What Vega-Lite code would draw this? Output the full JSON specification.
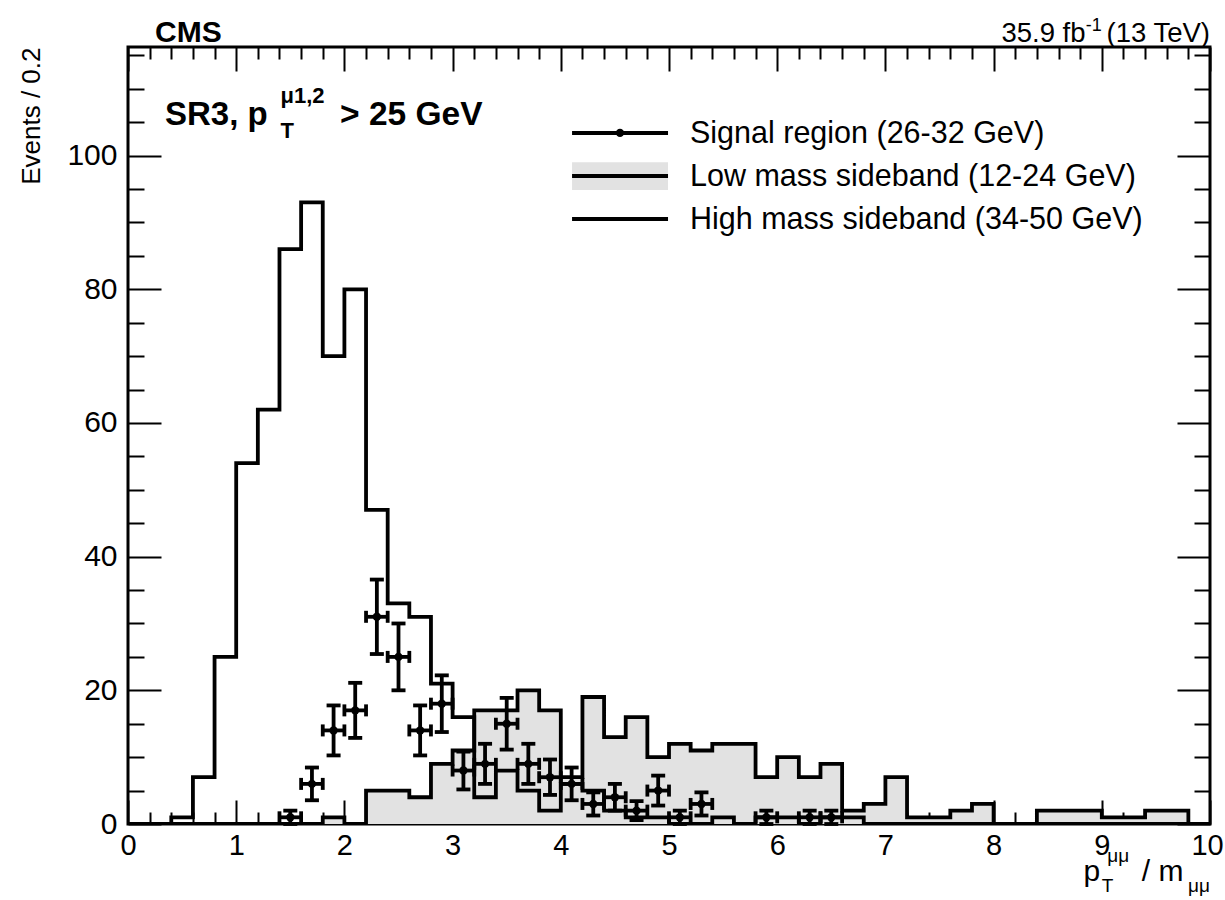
{
  "$schema": "https://vega.github.io/schema/vega-lite/v6.json",
  "width": 1082,
  "height": 777,
  "autosize": {"type": "none"},
  "padding": {"left": 128, "top": 47, "right": 15, "bottom": 76},
  "background": "white",
  "config": {
    "view": {"stroke": "black", "strokeWidth": 3},
    "font": "Liberation Sans",
    "text": {"font": "Liberation Sans", "color": "black"}
  },
  "data": {"values": [{}]},
  "datasets": {
    "hist": [
      {"e": 0, "high": 0, "low": 0}, {"e": 0.2, "high": 0, "low": 0}, {"e": 0.4, "high": 1, "low": 0},
      {"e": 0.6, "high": 7, "low": 0}, {"e": 0.8, "high": 25, "low": 0}, {"e": 1.0, "high": 54, "low": 0},
      {"e": 1.2, "high": 62, "low": 0}, {"e": 1.4, "high": 86, "low": 0}, {"e": 1.6, "high": 93, "low": 0},
      {"e": 1.8, "high": 70, "low": 1}, {"e": 2.0, "high": 80, "low": 0}, {"e": 2.2, "high": 47, "low": 5},
      {"e": 2.4, "high": 33, "low": 5}, {"e": 2.6, "high": 31, "low": 4}, {"e": 2.8, "high": 21, "low": 9},
      {"e": 3.0, "high": 16, "low": 11}, {"e": 3.2, "high": 4, "low": 17}, {"e": 3.4, "high": 8, "low": 17},
      {"e": 3.6, "high": 5, "low": 20}, {"e": 3.8, "high": 2, "low": 17}, {"e": 4.0, "high": 6, "low": 7},
      {"e": 4.2, "high": 5, "low": 19}, {"e": 4.4, "high": 2, "low": 13}, {"e": 4.6, "high": 1, "low": 16},
      {"e": 4.8, "high": 1, "low": 10}, {"e": 5.0, "high": 0, "low": 12}, {"e": 5.2, "high": 0, "low": 11},
      {"e": 5.4, "high": 1, "low": 12}, {"e": 5.6, "high": 0, "low": 12}, {"e": 5.8, "high": 1, "low": 7},
      {"e": 6.0, "high": 1, "low": 10}, {"e": 6.2, "high": 0, "low": 7}, {"e": 6.4, "high": 1, "low": 9},
      {"e": 6.6, "high": 1, "low": 2}, {"e": 6.8, "high": 0, "low": 3}, {"e": 7.0, "high": 0, "low": 7},
      {"e": 7.2, "high": 0, "low": 1}, {"e": 7.4, "high": 0, "low": 1}, {"e": 7.6, "high": 0, "low": 2},
      {"e": 7.8, "high": 0, "low": 3}, {"e": 8.0, "high": 0, "low": 0}, {"e": 8.2, "high": 0, "low": 0},
      {"e": 8.4, "high": 0, "low": 2}, {"e": 8.6, "high": 0, "low": 2}, {"e": 8.8, "high": 0, "low": 2},
      {"e": 9.0, "high": 0, "low": 1}, {"e": 9.2, "high": 0, "low": 1}, {"e": 9.4, "high": 0, "low": 2},
      {"e": 9.6, "high": 0, "low": 2}, {"e": 9.8, "high": 0, "low": 0}, {"e": 10, "high": 0, "low": 0}
    ],
    "sig": [
      {"c": 1.5, "lo": 1.4, "hi": 1.6, "n": 1, "elo": 0, "ehi": 2},
      {"c": 1.7, "lo": 1.6, "hi": 1.8, "n": 6, "elo": 3.55, "ehi": 8.45},
      {"c": 1.9, "lo": 1.8, "hi": 2.0, "n": 14, "elo": 10.26, "ehi": 17.74},
      {"c": 2.1, "lo": 2.0, "hi": 2.2, "n": 17, "elo": 12.88, "ehi": 21.12},
      {"c": 2.3, "lo": 2.2, "hi": 2.4, "n": 31, "elo": 25.43, "ehi": 36.57},
      {"c": 2.5, "lo": 2.4, "hi": 2.6, "n": 25, "elo": 20, "ehi": 30},
      {"c": 2.7, "lo": 2.6, "hi": 2.8, "n": 14, "elo": 10.26, "ehi": 17.74},
      {"c": 2.9, "lo": 2.8, "hi": 3.0, "n": 18, "elo": 13.76, "ehi": 22.24},
      {"c": 3.1, "lo": 3.0, "hi": 3.2, "n": 8, "elo": 5.17, "ehi": 10.83},
      {"c": 3.3, "lo": 3.2, "hi": 3.4, "n": 9, "elo": 6, "ehi": 12},
      {"c": 3.5, "lo": 3.4, "hi": 3.6, "n": 15, "elo": 11.13, "ehi": 18.87},
      {"c": 3.7, "lo": 3.6, "hi": 3.8, "n": 9, "elo": 6, "ehi": 12},
      {"c": 3.9, "lo": 3.8, "hi": 4.0, "n": 7, "elo": 4.35, "ehi": 9.65},
      {"c": 4.1, "lo": 4.0, "hi": 4.2, "n": 6, "elo": 3.55, "ehi": 8.45},
      {"c": 4.3, "lo": 4.2, "hi": 4.4, "n": 3, "elo": 1.27, "ehi": 4.73},
      {"c": 4.5, "lo": 4.4, "hi": 4.6, "n": 4, "elo": 2, "ehi": 6},
      {"c": 4.7, "lo": 4.6, "hi": 4.8, "n": 2, "elo": 0.59, "ehi": 3.41},
      {"c": 4.9, "lo": 4.8, "hi": 5.0, "n": 5, "elo": 2.76, "ehi": 7.24},
      {"c": 5.1, "lo": 5.0, "hi": 5.2, "n": 1, "elo": 0, "ehi": 2},
      {"c": 5.3, "lo": 5.2, "hi": 5.4, "n": 3, "elo": 1.27, "ehi": 4.73},
      {"c": 5.9, "lo": 5.8, "hi": 6.0, "n": 1, "elo": 0, "ehi": 2},
      {"c": 6.3, "lo": 6.2, "hi": 6.4, "n": 1, "elo": 0, "ehi": 2},
      {"c": 6.5, "lo": 6.4, "hi": 6.6, "n": 1, "elo": 0, "ehi": 2}
    ]
  },
  "resolve": {"axis": {"x": "independent", "y": "independent"}},
  "layer": [
    {
      "data": {"name": "hist"},
      "mark": {"type": "area", "interpolate": "step-after", "color": "#e2e2e2", "clip": true},
      "encoding": {
        "x": {"field": "e", "type": "quantitative",
          "scale": {"domain": [0, 10], "nice": false, "zero": false},
          "axis": {"orient": "bottom", "title": null, "grid": false, "domain": false,
            "values": [0,0.2,0.4,0.6,0.8,1,1.2,1.4,1.6,1.8,2,2.2,2.4,2.6,2.8,3,3.2,3.4,3.6,3.8,4,4.2,4.4,4.6,4.8,5,5.2,5.4,5.6,5.8,6,6.2,6.4,6.6,6.8,7,7.2,7.4,7.6,7.8,8,8.2,8.4,8.6,8.8,9,9.2,9.4,9.6,9.8,10],
            "tickSize": {"condition": {"test": "abs(datum.value - round(datum.value)) < 0.001", "value": -24}, "value": -12},
            "tickWidth": 2, "tickColor": "black",
            "labelExpr": "abs(datum.value - round(datum.value)) < 0.001 ? format(datum.value, 'd') : ''",
            "labelOffset": {"condition": {"test": "datum.value > 9.9", "value": -3}, "value": 0},
            "labelOverlap": false, "labelFlush": false, "labelFont": "Liberation Sans", "labelFontSize": 29,
            "labelColor": "black", "labelPadding": 31}},
        "y": {"field": "low", "type": "quantitative",
          "scale": {"domain": [0, 116.25], "nice": false, "zero": false},
          "axis": {"orient": "left", "grid": false, "domain": false,
            "values": [0,5,10,15,20,25,30,35,40,45,50,55,60,65,70,75,80,85,90,95,100,105,110,115],
            "tickSize": {"condition": {"test": "datum.value % 20 === 0", "value": -33}, "value": -16},
            "tickWidth": 2, "tickColor": "black",
            "labelExpr": "datum.value % 20 === 0 ? format(datum.value, 'd') : ''",
            "labelOverlap": false, "labelFlush": false, "labelFont": "Liberation Sans", "labelFontSize": 30,
            "labelColor": "black", "labelPadding": 44,
            "title": "Events / 0.2", "titleAnchor": "end", "titleFont": "Liberation Sans", "titleFontSize": 26,
            "titleFontWeight": "normal", "titleColor": "black", "titlePadding": 22}}
      }
    },
    {
      "data": {"name": "hist"},
      "mark": {"type": "line", "interpolate": "step-after", "color": "black", "strokeWidth": 3.8, "clip": true},
      "encoding": {
        "x": {"field": "e", "type": "quantitative",
          "axis": {"orient": "top", "title": null, "grid": false, "domain": false, "labels": false,
            "values": [0,0.2,0.4,0.6,0.8,1,1.2,1.4,1.6,1.8,2,2.2,2.4,2.6,2.8,3,3.2,3.4,3.6,3.8,4,4.2,4.4,4.6,4.8,5,5.2,5.4,5.6,5.8,6,6.2,6.4,6.6,6.8,7,7.2,7.4,7.6,7.8,8,8.2,8.4,8.6,8.8,9,9.2,9.4,9.6,9.8,10],
            "tickSize": {"condition": {"test": "abs(datum.value - round(datum.value)) < 0.001", "value": -24}, "value": -12},
            "tickWidth": 2, "tickColor": "black"}},
        "y": {"field": "low", "type": "quantitative",
          "axis": {"orient": "right", "title": null, "grid": false, "domain": false, "labels": false,
            "values": [0,5,10,15,20,25,30,35,40,45,50,55,60,65,70,75,80,85,90,95,100,105,110,115],
            "tickSize": {"condition": {"test": "datum.value % 20 === 0", "value": -33}, "value": -16},
            "tickWidth": 2, "tickColor": "black"}}
      }
    },
    {
      "data": {"name": "hist"},
      "mark": {"type": "line", "interpolate": "step-after", "color": "black", "strokeWidth": 3.8, "clip": true},
      "encoding": {
        "x": {"field": "e", "type": "quantitative", "axis": null},
        "y": {"field": "high", "type": "quantitative", "axis": null}
      }
    },
    {
      "data": {"name": "sig"},
      "mark": {"type": "rule", "color": "black", "strokeWidth": 3.8},
      "encoding": {
        "x": {"field": "lo", "type": "quantitative", "axis": null},
        "x2": {"field": "hi"},
        "y": {"field": "n", "type": "quantitative", "axis": null}
      }
    },
    {
      "data": {"name": "sig"},
      "mark": {"type": "rule", "color": "black", "strokeWidth": 3.8},
      "encoding": {
        "x": {"field": "c", "type": "quantitative", "axis": null},
        "y": {"field": "elo", "type": "quantitative", "axis": null},
        "y2": {"field": "ehi"}
      }
    },
    {
      "data": {"name": "sig"},
      "mark": {"type": "tick", "orient": "horizontal", "color": "black", "size": 14, "thickness": 3.8, "opacity": 1},
      "encoding": {
        "x": {"field": "c", "type": "quantitative", "axis": null},
        "y": {"field": "ehi", "type": "quantitative", "axis": null}
      }
    },
    {
      "data": {"name": "sig"},
      "mark": {"type": "tick", "orient": "horizontal", "color": "black", "size": 14, "thickness": 3.8, "opacity": 1},
      "encoding": {
        "x": {"field": "c", "type": "quantitative", "axis": null},
        "y": {"field": "elo", "type": "quantitative", "axis": null}
      }
    },
    {
      "data": {"name": "sig"},
      "mark": {"type": "tick", "orient": "vertical", "color": "black", "size": 12, "thickness": 3.8, "opacity": 1},
      "encoding": {
        "x": {"field": "lo", "type": "quantitative", "axis": null},
        "y": {"field": "n", "type": "quantitative", "axis": null}
      }
    },
    {
      "data": {"name": "sig"},
      "mark": {"type": "tick", "orient": "vertical", "color": "black", "size": 12, "thickness": 3.8, "opacity": 1},
      "encoding": {
        "x": {"field": "hi", "type": "quantitative", "axis": null},
        "y": {"field": "n", "type": "quantitative", "axis": null}
      }
    },
    {
      "data": {"name": "sig"},
      "mark": {"type": "point", "shape": "circle", "filled": true, "color": "black", "size": 70, "opacity": 1},
      "encoding": {
        "x": {"field": "c", "type": "quantitative", "axis": null},
        "y": {"field": "n", "type": "quantitative", "axis": null}
      }
    },
    {
      "mark": {"type": "rect", "color": "#e2e2e2"},
      "encoding": {
        "x": {"datum": 4.104, "type": "quantitative", "axis": null}, "x2": {"datum": 4.991},
        "y": {"datum": 94.85, "type": "quantitative", "axis": null}, "y2": {"datum": 99.0}
      }
    },
    {
      "mark": {"type": "rule", "color": "black", "strokeWidth": 4},
      "encoding": {
        "x": {"datum": 4.104, "type": "quantitative", "axis": null}, "x2": {"datum": 4.991},
        "y": {"datum": 103.4, "type": "quantitative", "axis": null}
      }
    },
    {
      "mark": {"type": "rule", "color": "black", "strokeWidth": 4},
      "encoding": {
        "x": {"datum": 4.104, "type": "quantitative", "axis": null}, "x2": {"datum": 4.991},
        "y": {"datum": 96.95, "type": "quantitative", "axis": null}
      }
    },
    {
      "mark": {"type": "rule", "color": "black", "strokeWidth": 4},
      "encoding": {
        "x": {"datum": 4.104, "type": "quantitative", "axis": null}, "x2": {"datum": 4.991},
        "y": {"datum": 90.5, "type": "quantitative", "axis": null}
      }
    },
    {
      "mark": {"type": "point", "shape": "circle", "filled": true, "color": "black", "size": 70, "opacity": 1},
      "encoding": {
        "x": {"datum": 4.547, "type": "quantitative", "axis": null},
        "y": {"datum": 103.4, "type": "quantitative", "axis": null}
      }
    },
    {
      "mark": {"type": "text", "align": "left", "baseline": "middle", "fontSize": 30.5, "text": "Signal region (26-32 GeV)"},
      "encoding": {"x": {"datum": 5.194, "type": "quantitative", "axis": null}, "y": {"datum": 103.2, "type": "quantitative", "axis": null}}
    },
    {
      "mark": {"type": "text", "align": "left", "baseline": "middle", "fontSize": 30.5, "text": "Low mass sideband (12-24 GeV)"},
      "encoding": {"x": {"datum": 5.194, "type": "quantitative", "axis": null}, "y": {"datum": 96.75, "type": "quantitative", "axis": null}}
    },
    {
      "mark": {"type": "text", "align": "left", "baseline": "middle", "fontSize": 30.5, "text": "High mass sideband (34-50 GeV)"},
      "encoding": {"x": {"datum": 5.194, "type": "quantitative", "axis": null}, "y": {"datum": 90.3, "type": "quantitative", "axis": null}}
    },
    {
      "mark": {"type": "text", "align": "left", "baseline": "alphabetic", "fontSize": 33, "fontWeight": "bold", "text": "SR3, p"},
      "encoding": {"x": {"datum": 0.342, "type": "quantitative", "axis": null}, "y": {"datum": 104.6, "type": "quantitative", "axis": null}}
    },
    {
      "mark": {"type": "text", "align": "left", "baseline": "alphabetic", "fontSize": 22, "fontWeight": "bold", "text": "T"},
      "encoding": {"x": {"datum": 1.41, "type": "quantitative", "axis": null}, "y": {"datum": 102.7, "type": "quantitative", "axis": null}}
    },
    {
      "mark": {"type": "text", "align": "left", "baseline": "alphabetic", "fontSize": 22, "fontWeight": "bold", "text": "μ1,2"},
      "encoding": {"x": {"datum": 1.41, "type": "quantitative", "axis": null}, "y": {"datum": 107.9, "type": "quantitative", "axis": null}}
    },
    {
      "mark": {"type": "text", "align": "left", "baseline": "alphabetic", "fontSize": 33.5, "fontWeight": "bold", "text": "> 25 GeV"},
      "encoding": {"x": {"datum": 1.96, "type": "quantitative", "axis": null}, "y": {"datum": 104.6, "type": "quantitative", "axis": null}}
    },
    {
      "mark": {"type": "text", "align": "left", "baseline": "alphabetic", "fontSize": 30, "fontWeight": "bold", "text": "CMS"},
      "encoding": {"x": {"datum": 0.25, "type": "quantitative", "axis": null}, "y": {"datum": 116.95, "type": "quantitative", "axis": null}}
    },
    {
      "mark": {"type": "text", "align": "right", "baseline": "alphabetic", "fontSize": 27.5, "text": "(13 TeV)"},
      "encoding": {"x": {"datum": 10, "type": "quantitative", "axis": null}, "y": {"datum": 116.95, "type": "quantitative", "axis": null}}
    },
    {
      "mark": {"type": "text", "align": "right", "baseline": "alphabetic", "fontSize": 18, "text": "-1"},
      "encoding": {"x": {"datum": 9.0, "type": "quantitative", "axis": null}, "y": {"datum": 118.7, "type": "quantitative", "axis": null}}
    },
    {
      "mark": {"type": "text", "align": "right", "baseline": "alphabetic", "fontSize": 27.5, "text": "35.9 fb"},
      "encoding": {"x": {"datum": 8.85, "type": "quantitative", "axis": null}, "y": {"datum": 116.95, "type": "quantitative", "axis": null}}
    },
    {
      "mark": {"type": "text", "align": "left", "baseline": "alphabetic", "fontSize": 30, "text": "p"},
      "encoding": {"x": {"datum": 8.83, "type": "quantitative", "axis": null}, "y": {"datum": -8.5, "type": "quantitative", "axis": null}}
    },
    {
      "mark": {"type": "text", "align": "left", "baseline": "alphabetic", "fontSize": 19, "text": "μμ"},
      "encoding": {"x": {"datum": 9.05, "type": "quantitative", "axis": null}, "y": {"datum": -5.7, "type": "quantitative", "axis": null}}
    },
    {
      "mark": {"type": "text", "align": "left", "baseline": "alphabetic", "fontSize": 19, "text": "T"},
      "encoding": {"x": {"datum": 9.0, "type": "quantitative", "axis": null}, "y": {"datum": -10.2, "type": "quantitative", "axis": null}}
    },
    {
      "mark": {"type": "text", "align": "left", "baseline": "alphabetic", "fontSize": 30, "text": "/ m"},
      "encoding": {"x": {"datum": 9.37, "type": "quantitative", "axis": null}, "y": {"datum": -8.5, "type": "quantitative", "axis": null}}
    },
    {
      "mark": {"type": "text", "align": "right", "baseline": "alphabetic", "fontSize": 19, "text": "μμ"},
      "encoding": {"x": {"datum": 10, "type": "quantitative", "axis": null}, "y": {"datum": -10.2, "type": "quantitative", "axis": null}}
    }
  ]
}
